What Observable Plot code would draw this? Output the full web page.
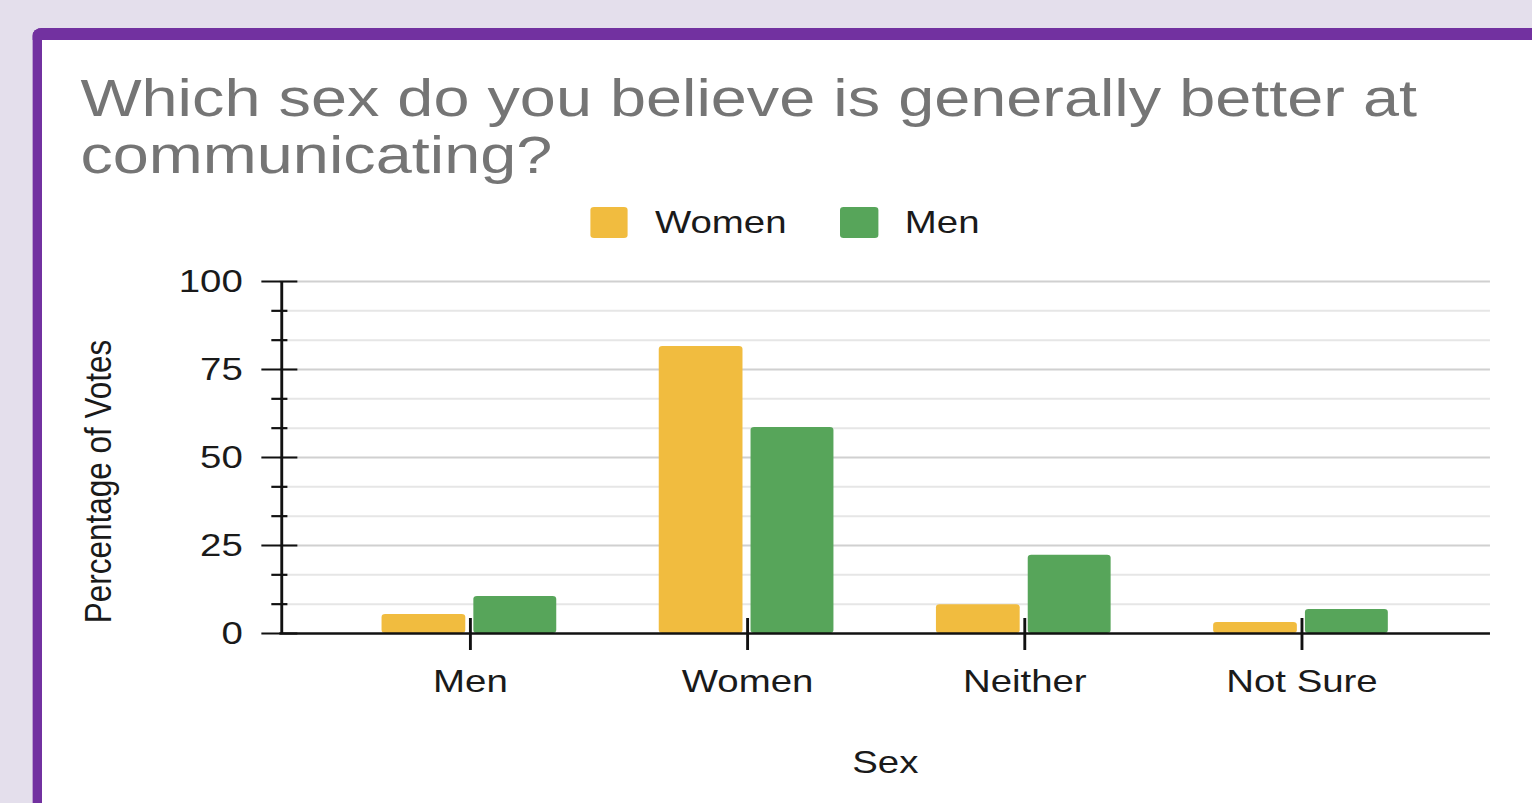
<!DOCTYPE html>
<html>
<head>
<meta charset="utf-8">
<script src="https://cdn.jsdelivr.net/npm/d3@7"></script>
<script src="https://cdn.jsdelivr.net/npm/@observablehq/plot@0.6"></script>
<style>
  html, body { margin: 0; padding: 0; width: 1532px; height: 803px; overflow: hidden; background: #e4dfec; font-family: "Liberation Sans", Arial, sans-serif; }
  #stage { position: absolute; left: 0; top: 0; width: 1276.67px; height: 803px; transform: scaleX(1.2); transform-origin: 0 0; }
  #card { position: absolute; left: 26.7px; top: 28px; right: -20px; bottom: -20px; background: #fff; border-top: 12px solid #7231a0; border-left: 8.3px solid #7231a0; border-top-left-radius: 8px; }
  .title { position: absolute; left: 66.7px; font-size: 51px; line-height: 57px; height: 57px; color: #757575; white-space: nowrap; transform: scaleX(1.059); transform-origin: 0 0; }
  .sw { position: absolute; top: 207px; width: 31.5px; height: 31px; border-radius: 3px; }
  .lt { position: absolute; top: 204px; font-size: 32px; line-height: 36px; color: #1a1a1a; white-space: nowrap; }
  #chart { position: absolute; left: 0; top: 250px; }
</style>
</head>
<body>
<div id="stage">
  <div id="card"></div>
  <div class="title" style="top:70.3px">Which sex do you believe is generally better at</div>
  <div class="title" style="top:127.4px">communicating?</div>
  <div class="sw" id="sw0" style="left:491.7px"></div>
  <div class="lt" id="lt0" style="left:545.8px"></div>
  <div class="sw" id="sw1" style="left:700px"></div>
  <div class="lt" id="lt1" style="left:754px"></div>
  <div id="chart"></div>
</div>
<script>
const categories = ["Men", "Women", "Neither", "Not Sure"];
const seriesNames = ["Women", "Men"];
const womenVotes = [5.4, 81.5, 8.2, 3.1];
const menVotes = [10.5, 58.5, 22.2, 6.8];
const majorTicks = [0, 25, 50, 75, 100];
const minorTicks = [25/3, 50/3, 100/3, 125/3, 175/3, 200/3, 250/3, 275/3];
const xLabel = "Sex";
const yLabel = "Percentage of Votes";
const colors = ["#f1bc3f", "#57a55a"];

document.getElementById("sw0").style.background = colors[0];
document.getElementById("sw1").style.background = colors[1];
document.getElementById("lt0").textContent = seriesNames[0];
document.getElementById("lt1").textContent = seriesNames[1];

const W = 1276.67, H = 553;
const mL = 232.8, mR = 35, mT = 31, mB = 170;
const frameW = W - mL - mR, frameH = H - mT - mB;
const xRange = [274.05, 1201.7];
const half = (xRange[1] - xRange[0]) / categories.length / 2;

const rowsW = categories.map((c, i) => ({cat: c, v: womenVotes[i]}));
const rowsM = categories.map((c, i) => ({cat: c, v: menVotes[i]}));
const font = "Liberation Sans, Arial, sans-serif";

const chart = Plot.plot({
  width: W, height: H,
  marginLeft: mL, marginRight: mR, marginTop: mT, marginBottom: mB,
  style: {fontFamily: font, background: "transparent", overflow: "visible"},
  x: {domain: categories, range: xRange, padding: 0, axis: null},
  y: {domain: [0, 100], axis: null},
  marks: [
    Plot.ruleY(minorTicks, {stroke: "#e6e6e6", strokeWidth: 2}),
    Plot.ruleY(majorTicks.slice(1), {stroke: "#d0d0d0", strokeWidth: 2}),
    Plot.barY(rowsW, {x: "cat", y: "v", fill: colors[0], insetLeft: half - 74, insetRight: half + 3.3, rx: 3}),
    Plot.barY(rowsM, {x: "cat", y: "v", fill: colors[1], insetLeft: half + 2.5, insetRight: half - 72.5, rx: 3}),
    Plot.ruleY(minorTicks, {stroke: "#111", strokeWidth: 2.2, dx: -6.7, insetRight: frameW - 13.4}),
    Plot.ruleY(majorTicks, {stroke: "#111", strokeWidth: 2.2, dx: -15, insetRight: frameW - 30}),
    Plot.ruleY([0], {stroke: "#111", strokeWidth: 2.4}),
    Plot.ruleX([categories[0]], {stroke: "#111", strokeWidth: 2.4, dx: mL - (xRange[0] + half)}),
    Plot.ruleX(categories, {stroke: "#111", strokeWidth: 2.4, insetTop: frameH - 32, dy: 17}),
    Plot.text(majorTicks, {y: d => d, text: d => String(d), frameAnchor: "left", dx: -31, textAnchor: "end", lineAnchor: "middle", fontSize: 32, fill: "#1a1a1a"}),
    Plot.text(categories, {x: d => d, text: d => d, frameAnchor: "bottom", dy: 48, textAnchor: "middle", lineAnchor: "middle", fontSize: 32, fill: "#1a1a1a"}),
    Plot.text([xLabel], {text: d => d, frameAnchor: "bottom", dy: 129, textAnchor: "middle", lineAnchor: "middle", fontSize: 32, fill: "#1a1a1a"}),
    Plot.text([yLabel], {text: d => d, frameAnchor: "left", rotate: -90, dx: -151, dy: 24, textAnchor: "middle", lineAnchor: "middle", fontSize: 31.5, fill: "#1a1a1a"})
  ]
});
document.getElementById("chart").appendChild(chart);
</script>
</body>
</html>
